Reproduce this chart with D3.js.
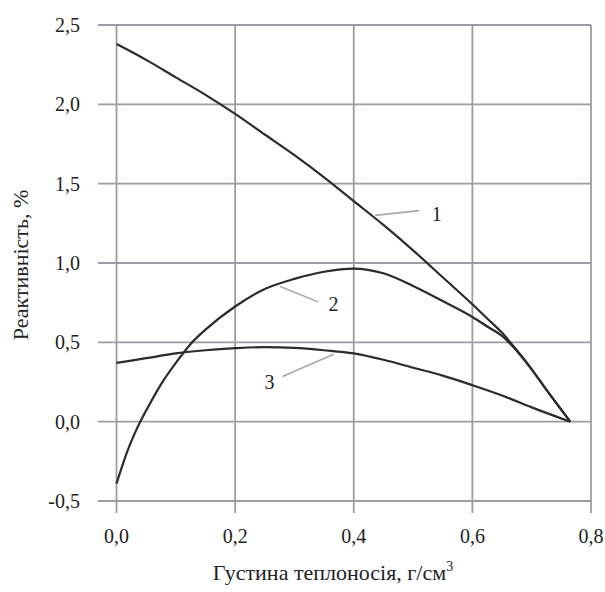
<!DOCTYPE html>
<html>
<head>
<meta charset="utf-8">
<script src="https://d3js.org/d3.v7.min.js"></script>
<style>
  body { margin: 0; background: #fff; }
</style>
</head>
<body>
<script>
// density, g/cm3 -> reactivity, %
var curve1 = [[0, 2.38], [0.05, 2.28], [0.1, 2.17], [0.15, 2.06], [0.2, 1.94], [0.25, 1.81],
  [0.3, 1.68], [0.35, 1.54], [0.4, 1.39], [0.45, 1.24], [0.5, 1.08], [0.55, 0.91],
  [0.6, 0.74], [0.625, 0.65], [0.65, 0.56], [0.675, 0.45], [0.7, 0.33], [0.725, 0.2], [0.765, 0]];
var curve2 = [[0, -0.39], [0.01, -0.275], [0.02, -0.17], [0.03, -0.08], [0.04, 0.0],
  [0.05, 0.07], [0.075, 0.235], [0.1, 0.37], [0.125, 0.49], [0.15, 0.58], [0.2, 0.726],
  [0.25, 0.836], [0.3, 0.90], [0.35, 0.945], [0.4, 0.965], [0.45, 0.935], [0.5, 0.855],
  [0.55, 0.76], [0.6, 0.66], [0.625, 0.60], [0.65, 0.54], [0.675, 0.445], [0.7, 0.33],
  [0.725, 0.2], [0.765, 0]];
var curve3 = [[0, 0.37], [0.05, 0.40], [0.1, 0.43], [0.15, 0.45], [0.2, 0.463], [0.25, 0.47],
  [0.3, 0.465], [0.35, 0.45], [0.4, 0.43], [0.45, 0.39], [0.5, 0.34], [0.55, 0.29],
  [0.6, 0.23], [0.65, 0.165], [0.7, 0.09], [0.765, 0]];
var xTicks = [0, 0.2, 0.4, 0.6, 0.8];
var yTicks = [-0.5, 0, 0.5, 1.0, 1.5, 2.0, 2.5];
var curveNames = ["1", "2", "3"];

var w = 605, h = 592;
var serif = "'Liberation Serif', 'Times New Roman', Times, 'DejaVu Serif', serif";
var x = d3.scaleLinear().domain([0, 0.8]).range([116.5, 591]);
var y = d3.scaleLinear().domain([-0.5, 2.5]).range([501, 25]);
var fmt = function(v) { return d3.format(".1f")(v).replace(".", ",").replace("\u2212", "-"); };

var svg = d3.select("body").append("svg")
  .attr("width", w)
  .attr("height", h)
  .attr("font-family", serif)
  .style("font-family", serif);

// grid
svg.append("g").selectAll("line")
  .data(yTicks).enter().append("line")
  .attr("x1", 98).attr("x2", x(0.8))
  .attr("y1", function(d) { return y(d); })
  .attr("y2", function(d) { return y(d); })
  .attr("stroke", "#9c9ca4")
  .attr("stroke-width", 1.8);

svg.append("g").selectAll("line")
  .data(xTicks).enter().append("line")
  .attr("x1", function(d) { return x(d); })
  .attr("x2", function(d) { return x(d); })
  .attr("y1", y(2.5)).attr("y2", 513)
  .attr("stroke", "#9c9ca4")
  .attr("stroke-width", 1.8);

// tick labels
svg.append("g").selectAll("text")
  .data(yTicks).enter().append("text")
  .attr("x", 80)
  .attr("y", function(d) { return y(d); })
  .attr("dy", "0.35em")
  .attr("text-anchor", "end")
  .attr("font-size", 20)
  .attr("fill", "#222")
  .text(fmt);

svg.append("g").selectAll("text")
  .data(xTicks).enter().append("text")
  .attr("x", function(d) { return x(d); })
  .attr("y", 543)
  .attr("text-anchor", "middle")
  .attr("font-size", 20)
  .attr("fill", "#222")
  .text(fmt);

// curves
var line = d3.line()
  .x(function(d) { return x(d[0]); })
  .y(function(d) { return y(d[1]); })
  .curve(d3.curveMonotoneX);

svg.append("g").selectAll("path")
  .data([curve1, curve2, curve3]).enter().append("path")
  .attr("d", line)
  .attr("fill", "none")
  .attr("stroke", "#2b2b2b")
  .attr("stroke-width", 2.2);

// curve labels with leader lines
var labels = [
  { name: curveNames[0], at: [0.436, 1.30], to: [0.51, 1.33], pos: [0.540, 1.31] },
  { name: curveNames[1], at: [0.276, 0.852], to: [0.34, 0.755], pos: [0.366, 0.74] },
  { name: curveNames[2], at: [0.366, 0.425], to: [0.28, 0.285], pos: [0.258, 0.25] }
];
var lg = svg.append("g");
lg.selectAll("line").data(labels).enter().append("line")
  .attr("x1", function(d) { return x(d.at[0]); })
  .attr("y1", function(d) { return y(d.at[1]); })
  .attr("x2", function(d) { return x(d.to[0]); })
  .attr("y2", function(d) { return y(d.to[1]); })
  .attr("stroke", "#a8a8ae")
  .attr("stroke-width", 1.6);
lg.selectAll("text").data(labels).enter().append("text")
  .attr("x", function(d) { return x(d.pos[0]); })
  .attr("y", function(d) { return y(d.pos[1]); })
  .attr("dy", "0.35em")
  .attr("text-anchor", "middle")
  .attr("font-size", 20)
  .attr("fill", "#222")
  .text(function(d) { return d.name; });

// axis titles
var xt = svg.append("text")
  .attr("x", 333)
  .attr("y", 580)
  .attr("text-anchor", "middle")
  .attr("font-size", 22)
  .attr("fill", "#222");
xt.append("tspan").text("Густина теплоносія, г/см");
xt.append("tspan").attr("font-size", 14).attr("dy", -9).text("3");

svg.append("text")
  .attr("transform", "translate(28,265) rotate(-90)")
  .attr("text-anchor", "middle")
  .attr("font-size", 22)
  .attr("fill", "#222")
  .text("Реактивність, %");
</script>
</body>
</html>
